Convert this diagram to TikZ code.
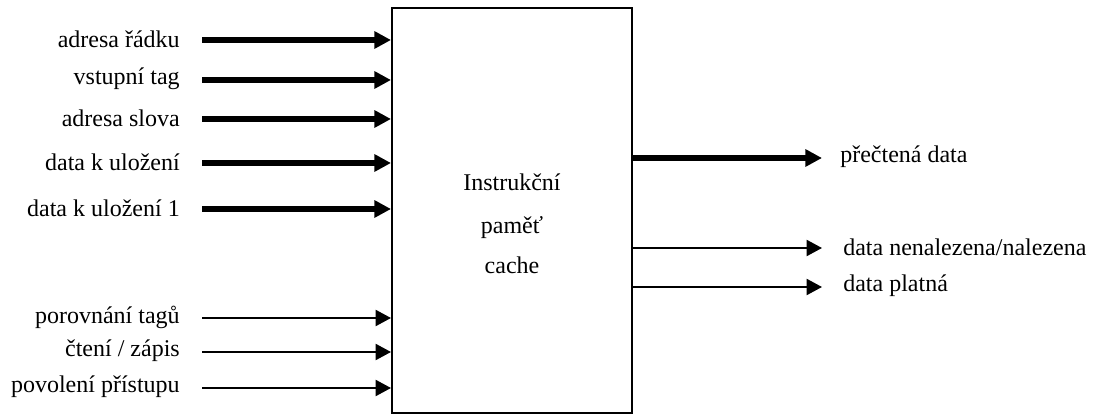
\documentclass[tikz,border=0pt]{standalone}
\usepackage{fontspec}
\setmainfont{Liberation Serif}
\usetikzlibrary{arrows.meta,positioning,calc}

\begin{document}
\begin{tikzpicture}[x=0.75pt,y=-0.75pt,
    every node/.style={font=\fontsize{18}{20}\selectfont},
    bus/.style={line width=4.3pt,-{Triangle[length=12.5pt,width=12.5pt]}},
    wire/.style={line width=1.5pt,-{Triangle[length=11.5pt,width=12pt]}},
  ]
  \useasboundingbox (0,0) rectangle (1093,416);

  % the cache block
  \node[draw, line width=1.5pt, minimum width=180pt, minimum height=303.75pt] (cache) at (512,210.5) {};
  \node (name1) at (512,182) {Instrukční};
  \node (name2) at (512,228) {paměť};
  \node (name3) at (512,265) {cache};

  % inputs
  \foreach \y/\txt/\sty [count=\i] in {40/adresa řádku/bus, 80/vstupní tag/bus,
      119/adresa slova/bus, 163/data k uložení/bus, 209/data k uložení 1/bus,
      318/porovnání tagů/wire, 352/{čtení / zápis}/wire, 388/povolení přístupu/wire} {
    \node[anchor=east, inner sep=0pt] (in\i) at (180,\y-1) {\txt};
    \coordinate (src\i) at (202,\y);
    \draw[\sty] (src\i) -- (src\i -| cache.west);
  }

  % outputs
  \foreach \y/\txt/\sty/\x [count=\i] in {158/přečtená data/bus/840,
      248/{data nenalezena/nalezena}/wire/843, 287/data platná/wire/843} {
    \coordinate (dst\i) at (822,\y);
    \node[anchor=west, inner sep=0pt] (out\i) at (\x,\y-1) {\txt};
    \draw[\sty] (dst\i -| cache.east) -- (dst\i);
  }
\end{tikzpicture}
\end{document}
